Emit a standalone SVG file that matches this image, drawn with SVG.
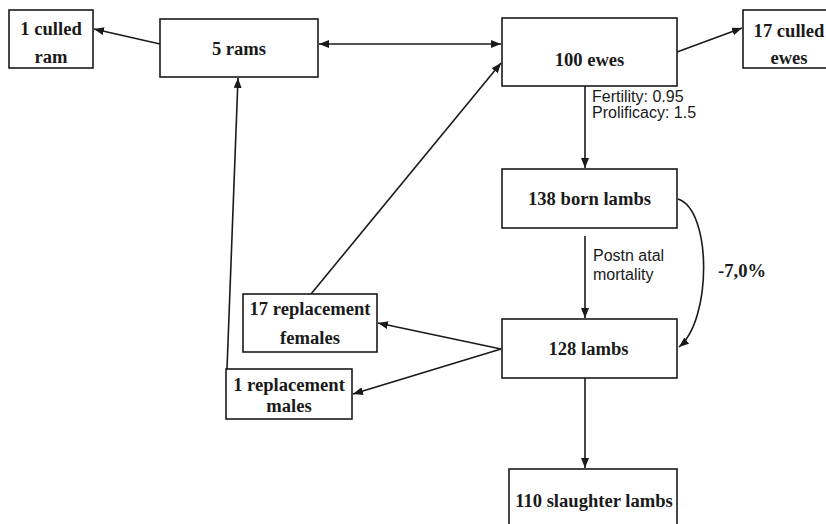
<svg xmlns="http://www.w3.org/2000/svg" width="826" height="524" viewBox="0 0 826 524">
<defs>
<style>
.box{fill:#fff;stroke:#1a1a1a;stroke-width:1.6}
.t{font-family:"Liberation Serif","Times New Roman",serif;font-weight:bold;font-size:18.6px;fill:#1a1a1a;text-anchor:middle}
.s{font-family:"Liberation Sans",Arial,sans-serif;font-size:16px;fill:#1a1a1a}
.c{fill:none;stroke:#1a1a1a;stroke-width:1.6}
</style>
<marker id="ah" markerUnits="userSpaceOnUse" markerWidth="10" markerHeight="8" refX="10" refY="4" orient="auto-start-reverse">
<path d="M0,0 L10,4 L0,8 z" fill="#1a1a1a"/>
</marker>
</defs>
<rect width="826" height="524" fill="#fff"/>
<g id="connectors">
<line class="c" x1="160" y1="44" x2="94" y2="29" marker-end="url(#ah)"/>
<line class="c" x1="319" y1="44" x2="501" y2="44" marker-start="url(#ah)" marker-end="url(#ah)"/>
<line class="c" x1="677" y1="52" x2="742" y2="28" marker-end="url(#ah)"/>
<line class="c" x1="311" y1="294" x2="501" y2="63" marker-end="url(#ah)"/>
<line class="c" x1="227" y1="369" x2="238" y2="78" marker-end="url(#ah)"/>
<line class="c" x1="585" y1="86" x2="585" y2="168" marker-end="url(#ah)"/>
<line class="c" x1="585" y1="236" x2="585" y2="318" marker-end="url(#ah)"/>
<path class="c" d="M678,199 C712,210 712,320 679,347" marker-end="url(#ah)"/>
<line class="c" x1="501" y1="349" x2="378" y2="323" marker-end="url(#ah)"/>
<line class="c" x1="501" y1="349" x2="353" y2="394" marker-end="url(#ah)"/>
<line class="c" x1="585" y1="378" x2="585" y2="468" marker-end="url(#ah)"/>
<text class="s" x="592" y="102">Fertility: 0.95</text>
<text class="s" x="592" y="118">Prolificacy: 1.5</text>
<text class="s" x="593" y="261">Postn atal</text>
<text class="s" x="593" y="280">mortality</text>
<text class="t" x="718" y="277" style="text-anchor:start">-7,0%</text>
</g>
<g id="culled-ram">
<rect class="box" x="9" y="10" width="84" height="58"/>
<text class="t" x="51" y="35">1 culled</text>
<text class="t" x="51" y="63">ram</text>
</g>
<g id="rams">
<rect class="box" x="160" y="19" width="158" height="58"/>
<text class="t" x="239" y="55">5 rams</text>
</g>
<g id="ewes">
<rect class="box" x="502" y="18" width="175" height="68"/>
<text class="t" x="589.5" y="66">100 ewes</text>
</g>
<g id="culled-ewes">
<rect class="box" x="743" y="10" width="90" height="58"/>
<text class="t" x="789" y="37">17 culled</text>
<text class="t" x="789" y="64">ewes</text>
</g>
<g id="born-lambs">
<rect class="box" x="502" y="169" width="175" height="59"/>
<text class="t" x="589.5" y="205">138 born lambs</text>
</g>
<g id="lambs">
<rect class="box" x="502" y="319" width="175" height="59"/>
<text class="t" x="588.5" y="355">128 lambs</text>
</g>
<g id="replacement-females">
<rect class="box" x="243" y="294" width="134" height="58"/>
<text class="t" x="310" y="315">17 replacement</text>
<text class="t" x="310" y="344">females</text>
</g>
<g id="replacement-males">
<rect class="box" x="226" y="369" width="126" height="50"/>
<text class="t" x="289" y="391">1 replacement</text>
<text class="t" x="289" y="412">males</text>
</g>
<g id="slaughter-lambs">
<rect class="box" x="509" y="469" width="168" height="60"/>
<text class="t" x="594" y="507">110 slaughter lambs</text>
</g>
</svg>
